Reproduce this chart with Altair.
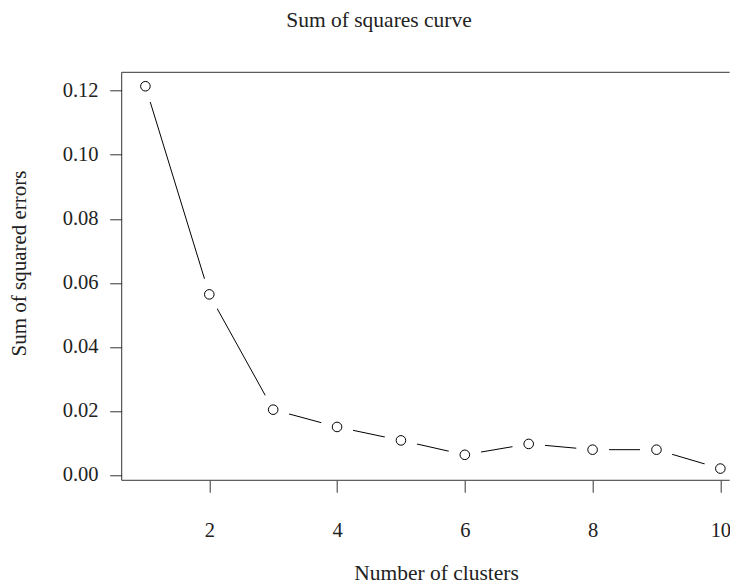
import altair as alt
import pandas as pd

# Data
clusters = [1, 2, 3, 4, 5, 6, 7, 8, 9, 10]
sse = [0.1214, 0.0564, 0.0204, 0.0150, 0.0108, 0.0063, 0.0097, 0.0079, 0.0079, 0.0020]
x_ticks = [2, 4, 6, 8, 10]
y_ticks = [0.00, 0.02, 0.04, 0.06, 0.08, 0.10, 0.12]
title_text = "Sum of squares curve"

df = pd.DataFrame({"k": clusters, "sse": sse})
one = pd.DataFrame({"a": [0]})

W, H = 608, 408
FONT = "Liberation Serif"
TXT = "#222222"
AX = "#333333"

x = alt.X(
    "k:Q",
    scale=alt.Scale(domain=[0.629, 10.146], nice=False, zero=False),
    axis=alt.Axis(
        values=x_ticks, format="d", title="Number of clusters", grid=False, domain=False,
        tickSize=12, tickColor=AX, tickWidth=1,
        labelPadding=44.7, labelBaseline="alphabetic", labelFont=FONT, labelFontSize=20.5,
        labelColor=TXT, labelFlush=False,
        titleFont=FONT, titleFontSize=21.5, titleFontWeight="normal", titleColor=TXT,
        titleX=314.3, titleY=99, titleBaseline="alphabetic", titleAlign="center",
        zindex=1,
    ),
)
y = alt.Y(
    "sse:Q",
    scale=alt.Scale(domain=[-0.00166, 0.12575], nice=False, zero=False),
    axis=alt.Axis(
        values=y_ticks, format=".2f", title="Sum of squared errors", grid=False, domain=False,
        tickSize=12, tickColor=AX, tickWidth=1,
        labelPadding=11.7, labelBaseline="middle", labelFont=FONT, labelFontSize=20.5,
        labelColor=TXT, labelFlush=False,
        titleFont=FONT, titleFontSize=21, titleFontWeight="normal", titleColor=TXT,
        titleX=-95.7, titleY=190.7, titleAngle=270, titleBaseline="alphabetic", titleAlign="center",
        zindex=1,
    ),
)

line = alt.Chart(df).mark_line(color="black", strokeWidth=1).encode(x=x, y=y)
mask = alt.Chart(df).mark_point(shape="circle", filled=True, color="white", opacity=1, size=1089).encode(x="k:Q", y="sse:Q")
pts = alt.Chart(df).mark_point(shape="circle", filled=False, color="black", opacity=1, size=92, strokeWidth=1).encode(x="k:Q", y="sse:Q")

top = alt.Chart(one).mark_rule(color=AX, strokeWidth=1).encode(x=alt.value(0), x2=alt.value(W), y=alt.value(0))
bottom = alt.Chart(one).mark_rule(color=AX, strokeWidth=1).encode(x=alt.value(0), x2=alt.value(W), y=alt.value(H))
left = alt.Chart(one).mark_rule(color=AX, strokeWidth=1).encode(x=alt.value(0), y=alt.value(0), y2=alt.value(H))

title = alt.Chart(one).mark_text(
    text=title_text, font=FONT, fontSize=21.5, fontWeight="normal", color=TXT,
    align="center", baseline="alphabetic",
).encode(x=alt.value(379 - 121.7), y=alt.value(27 - 72.3))

chart = alt.layer(line, mask, pts, top, bottom, left, title).properties(
    width=W,
    height=H,
    autosize=alt.AutoSizeParams(type="none"),
    padding={"left": 113.7, "top": 64.3, "right": 0, "bottom": 112},
).configure_view(stroke=None)

chart.save("out.html", embed_options={"renderer": "svg", "actions": False})
